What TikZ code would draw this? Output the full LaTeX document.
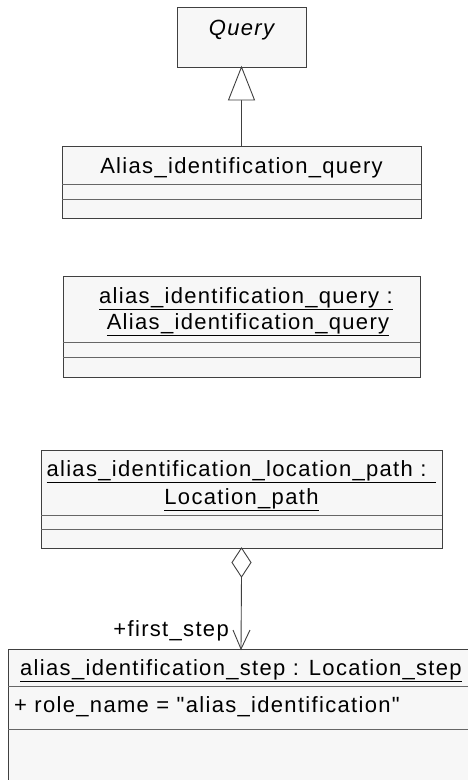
\documentclass[tikz,border=0pt]{standalone}
\usepackage{fontspec}
\setmainfont[LetterSpace=6]{Liberation Sans}
\newfontfamily\attrfont[LetterSpace=6,Ligatures=TeXOff]{Liberation Sans}
\begin{document}
\begin{tikzpicture}[x=1pt,y=-1pt,
  umlbox/.style={draw=black!75, fill=black!3, line width=1pt, inner sep=0pt, outer sep=0pt},
  sepline/.style={draw=black!60, line width=1pt},
  conn/.style={draw=black!75, line width=0.9pt},
  lbl/.style={inner sep=0pt, anchor=base, font=\fontsize{22}{26}\selectfont},
  lblw/.style={lbl, align=center}]
\useasboundingbox (0,0) rectangle (468,780);
\clip (0,0) rectangle (468,780);
\fill[white] (0,0) rectangle (468,780);

% Query
\node[umlbox, minimum width=129pt, minimum height=60pt] (q) at (241.5,37) {};
\node[lbl, font=\fontsize{22}{26}\selectfont\itshape] (qt) at (241.5,35) {Query};

% Alias_identification_query class
\node[umlbox, minimum width=359pt, minimum height=72pt] (aiq) at (241.5,182) {};
\node[lbl] (aiqt) at (241.5,173) {Alias\_identification\_query};
\draw[sepline] (62,184) -- (421,184);
\draw[sepline] (62,199) -- (421,199);

% generalization
\coordinate (gbase) at (241.5,100);
\draw[conn] (aiq.north) -- (gbase);
\draw[conn, fill=white] (q.south) -- (254.5,100) -- (228.5,100) -- cycle;

% instance box
\node[umlbox, minimum width=357pt, minimum height=101pt] (inst) at (241.5,326.5) {};
\node[lbl] (inst1) at (246,303) {\underline{alias\_identification\_query :}};
\node[lbl] (inst2) at (248,329) {\underline{Alias\_identification\_query}};
\draw[sepline] (63,342) -- (420,342);
\draw[sepline] (63,357) -- (420,357);

% location path box
\node[umlbox, minimum width=401pt, minimum height=98pt] (lp) at (241.5,499) {};
\node[lbl] (lp1) at (241.5,476) {\underline{alias\_identification\_location\_path : }};
\node[lbl] (lp2) at (241.5,504) {\underline{Location\_path}};
\draw[sepline] (41,515) -- (442,515);
\draw[sepline] (41,529) -- (442,529);

% step box
\node[umlbox, minimum width=466pt, minimum height=150pt] (st) at (241,724) {};
\node[lbl] (st1) at (241,675) {\underline{alias\_identification\_step : Location\_step}};
\node[lbl, anchor=base west, font=\fontsize{22}{26}\attrfont] (st2) at (14,712) {+ role\_name = "alias\_identification"};
\draw[sepline] (8,686) -- (474,686);
\draw[sepline] (8,729) -- (474,729);

% aggregation
\coordinate (dl) at (232,562.5);
\coordinate (db) at (241.5,577);
\coordinate (dr) at (251,562.5);
\draw[conn, fill=white] (lp.south) -- (dl) -- (db) -- (dr) -- cycle;
\draw[conn] (db) -- (st.north);
\coordinate (al) at (233,630);
\coordinate (ar) at (250,630);
\draw[conn] (al) -- (st.north) -- (ar);
\node[lbl, anchor=base east] (role) at (229,636) {+first\_step};
\end{tikzpicture}
\end{document}
